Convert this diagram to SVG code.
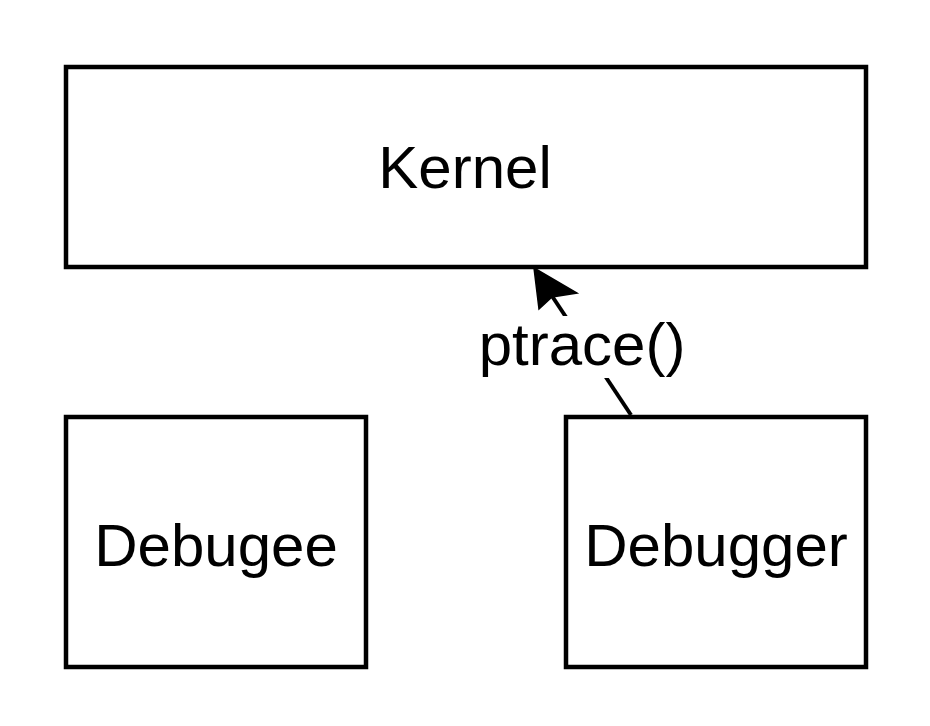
<svg xmlns="http://www.w3.org/2000/svg" width="930" height="726" viewBox="0 0 930 726">
<style>
.box{fill:#fff;stroke:#000;stroke-width:4.5}
.lbl{font-family:"Liberation Sans",Arial,sans-serif;font-size:60px;fill:#000;text-anchor:middle}
.edge{stroke:#000;stroke-width:4;fill:none}
</style>
<rect width="930" height="726" fill="#fff"/>
<g id="kernel">
<rect class="box" x="66" y="67" width="800" height="200"/>
<text class="lbl" x="465" y="188">Kernel</text>
</g>
<g id="debugee">
<rect class="box" x="66" y="417" width="300" height="250"/>
<text class="lbl" x="216" y="566">Debugee</text>
</g>
<g id="debugger">
<rect class="box" x="566" y="417" width="300" height="250"/>
<text class="lbl" x="716" y="566">Debugger</text>
</g>
<g id="connectors">
<line class="edge" x1="631" y1="415" x2="550" y2="293"/>
<path d="M534,268 L577,293 L552,297 L539,309 Z" fill="#000" stroke="#000" stroke-width="1.5" stroke-linejoin="miter"/>
<rect x="480" y="316" width="206" height="62" fill="#fff"/>
<text class="lbl" x="582" y="365">ptrace()</text>
</g>
</svg>
